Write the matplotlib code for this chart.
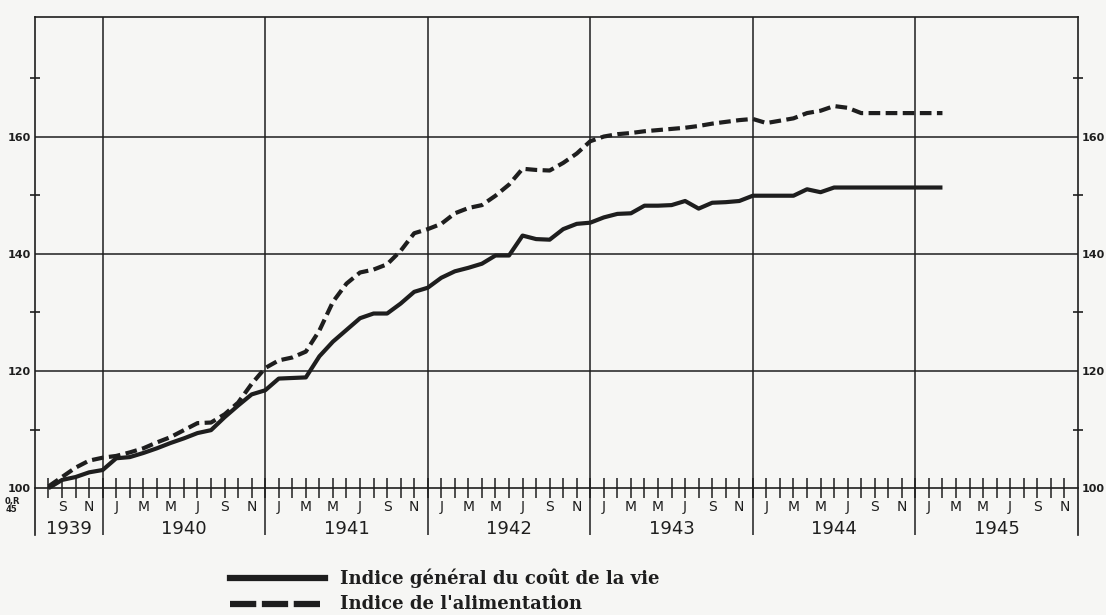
import matplotlib.pyplot as plt
from matplotlib.ticker import FixedLocator

# mois : 8 = août 1939, 13 = janvier 1940, ... (12 * (année - 1939) + mois)
mois = list(range(8, 75))

# Indice général du coût de la vie (base août 1939 = 100)
cout_vie = [100, 101.4, 101.9, 102.7, 103.1,
            105.1, 105.3, 106.0, 106.8, 107.7, 108.5, 109.4, 109.9, 112.1, 114.1, 116.0, 116.7,
            118.7, 118.8, 118.9, 122.5, 125.0, 127.0, 129.0, 129.8, 129.8, 131.5, 133.5, 134.2,
            135.9, 137.0, 137.6, 138.3, 139.7, 139.7, 143.1, 142.5, 142.4, 144.2, 145.1, 145.3,
            146.2, 146.8, 146.9, 148.2, 148.2, 148.3, 149.0, 147.7, 148.7, 148.8, 149.0, 149.9,
            149.9, 149.9, 149.9, 151.0, 150.5, 151.3, 151.3, 151.3, 151.3, 151.3, 151.3, 151.3,
            151.3, 151.3]

# Indice de l'alimentation
alimentation = [100.3, 101.9, 103.5, 104.7, 105.2,
                105.5, 106.1, 106.8, 107.8, 108.7, 109.9, 111.1, 111.2, 112.6, 114.6, 117.8, 120.5,
                121.8, 122.3, 123.3, 126.9, 131.8, 134.9, 136.8, 137.3, 138.2, 140.5, 143.5, 144.2,
                145.1, 146.9, 147.8, 148.3, 149.9, 151.8, 154.5, 154.3, 154.2, 155.5, 157.1, 159.2,
                160.0, 160.4, 160.6, 160.9, 161.1, 161.3, 161.5, 161.8, 162.2, 162.5, 162.8, 163.0,
                162.3, 162.7, 163.1, 164.0, 164.4, 165.2, 164.9, 164.0, 164.0, 164.0, 164.0, 164.0,
                164.0, 164.0]

annees = ["1939", "1940", "1941", "1942", "1943", "1944", "1945"]
lettres_mois = ["J", "F", "M", "A", "M", "J", "J", "A", "S", "O", "N", "D"]

ink = "#1e1e1e"
fig = plt.figure(figsize=(11.06, 6.15), dpi=100, facecolor="#f6f6f4")
ax = fig.add_axes([0.0316, 0.130, 0.943, 0.8424])
ax.set_facecolor("#f6f6f4")
ax.set_xlim(7, 84)
ax.set_ylim(92, 180.4)

# cadre
for s in ["left", "right", "top"]:
    ax.spines[s].set_color(ink)
    ax.spines[s].set_linewidth(1.2)
ax.spines["bottom"].set_position(("data", 100))
ax.spines["bottom"].set_color(ink)
ax.spines["bottom"].set_linewidth(1.2)

# quadrillage
for v in [120, 140, 160]:
    ax.axhline(v, color=ink, lw=1.1, zorder=1)
for i in range(1, len(annees)):
    ax.axvline(12 * i, color=ink, lw=1.1, zorder=1)

# graduations des mois sur la ligne 100
ticks = list(range(8, 84))
ax.xaxis.set_major_locator(FixedLocator(ticks))
labels = []
for t in ticks:
    m = (t - 1) % 12
    labels.append(lettres_mois[m] if m in (0, 2, 4, 6, 8, 10) else "")
ax.set_xticklabels(labels, fontsize=10, color=ink, family="DejaVu Sans")
ax.tick_params(axis="x", direction="inout", length=15, width=1.1, color=ink, pad=1)

# années
for i, a in enumerate(annees):
    x0 = max(12 * i, 7)
    ax.text((x0 + 12 * (i + 1)) / 2, 93.0, a, ha="center", va="center",
            fontsize=13, color=ink, family="DejaVu Sans")

# axe vertical
ax.yaxis.set_major_locator(FixedLocator([100, 120, 140, 160]))
ax.yaxis.set_minor_locator(FixedLocator([110, 130, 150, 170]))
ax.tick_params(axis="y", which="major", length=0, labelsize=8, labelcolor=ink,
               left=True, right=True, labelleft=True, labelright=True, pad=3)
ax.tick_params(axis="y", which="minor", direction="inout", length=7, width=1.2,
               color=ink, left=True, right=True)
for lab in ax.get_yticklabels():
    lab.set_fontweight("bold")
ax.text(5.3, 97.0, "0,R\n45", fontsize=6, ha="center", va="center", color=ink,
        fontweight="bold", linespacing=0.9)

# courbes
ax.plot(mois, cout_vie, color=ink, lw=3.0, solid_capstyle="butt", zorder=3)
ax.plot(mois, alimentation, color=ink, lw=3.0, dashes=(2.8, 1.3),
        dash_capstyle="butt", zorder=3)

# légende
fig.lines.append(plt.Line2D([230 / 1106, 325 / 1106], [1 - 578 / 615] * 2,
                            color=ink, lw=4.5, transform=fig.transFigure))
fig.lines.append(plt.Line2D([230 / 1106, 325 / 1106], [1 - 604 / 615] * 2,
                            color=ink, lw=4.5, dashes=(4.2, 0.9),
                            transform=fig.transFigure))
fig.text(340 / 1106, 1 - 578 / 615, "Indice général du coût de la vie",
         fontsize=13, fontweight="bold", family="DejaVu Serif", va="center", color=ink)
fig.text(340 / 1106, 1 - 604 / 615, "Indice de l'alimentation",
         fontsize=13, fontweight="bold", family="DejaVu Serif", va="center", color=ink)

fig.savefig("out.png", dpi=100, facecolor=fig.get_facecolor())
